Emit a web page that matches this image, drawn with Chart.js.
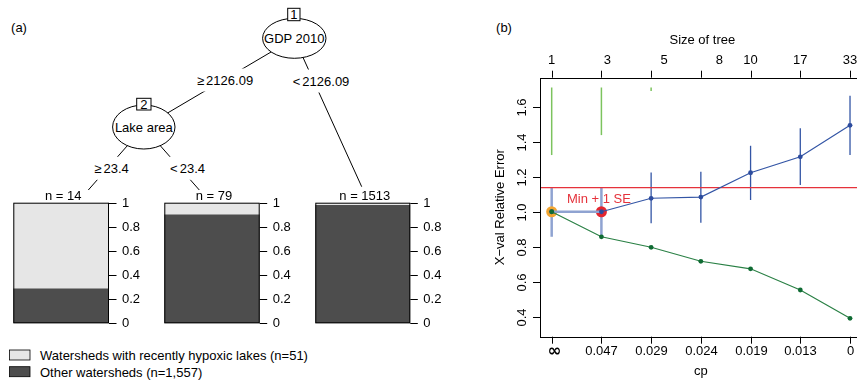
<!DOCTYPE html>
<html>
<head>
<meta charset="utf-8">
<script src="https://cdn.jsdelivr.net/npm/chart.js@4"></script>
<style>
  html, body { margin: 0; padding: 0; width: 857px; height: 382px; overflow: hidden; background: #fff; }
  #tree { position: absolute; left: 0; top: 0; }
  canvas { position: absolute; }
  text { font-family: "Liberation Sans", Arial, sans-serif; }
</style>
</head>
<body>
<svg id="tree" width="857" height="382" xmlns="http://www.w3.org/2000/svg"></svg>
<canvas id="node0" width="150" height="145" style="left:0;top:185px"></canvas>
<canvas id="node1" width="150" height="145" style="left:150px;top:185px"></canvas>
<canvas id="node2" width="150" height="145" style="left:300px;top:185px"></canvas>
<canvas id="cp" width="380" height="382" style="left:490px;top:0"></canvas>
<script>
// terminal nodes of the tree (panel a)
const nodeLabels = ["n = 14", "n = 79", "n = 1513"];
const otherShare = [0.286, 0.899, 0.978];
const hypoxicShare = [0.714, 0.101, 0.022];
const shareTicks = [0, 0.2, 0.4, 0.6, 0.8, 1];

// cross-validation of the tree (panel b)
const cpLabels = ["∞", "0.047", "0.029", "0.024", "0.019", "0.013", "0"];
const sizeLabels = ["1", "3", "5", "8", "10", "17", "33"];
const sizeLabelPos = [1, 2.12, 3.26, 4.37, 5, 6, 7];
const relError = [1.0, 0.857, 0.797, 0.717, 0.674, 0.553, 0.391];
const xError = [1.0, 1.0, 1.077, 1.084, 1.223, 1.314, 1.494];
const xErrLow = [0.857, 0.857, 0.934, 0.937, 1.067, 1.153, 1.324];
const xErrHigh = [1.14, 1.14, 1.225, 1.229, 1.377, 1.477, 1.663];
const greenLow = [1.324, 1.438, 1.69];
const greenHigh = [1.71, 1.71, 1.71];
const minPlusSE = 1.138;
const errTicks = [0.4, 0.6, 0.8, 1.0, 1.2, 1.4, 1.6];

const FONT = '"Liberation Sans", Arial, sans-serif';
const DARK = "#4d4d4d";
const LIGHT = "#e6e6e6";

// ---- tree drawing (svg) ----
const svg = document.getElementById("tree");
const NS = "http://www.w3.org/2000/svg";
function el(name, attrs, text) {
  const e = document.createElementNS(NS, name);
  for (const k in attrs) e.setAttribute(k, attrs[k]);
  if (text !== undefined) e.textContent = text;
  svg.appendChild(e);
  return e;
}
function label(x, y, str, size, bg) {
  const attrs = { x: x, y: y, "font-size": size, "text-anchor": "middle", "dominant-baseline": "central" };
  if (bg) attrs["word-spacing"] = -1.5;
  const t = el("text", attrs, str);
  if (bg) {
    const b = t.getBBox();
    const r = document.createElementNS(NS, "rect");
    r.setAttribute("x", b.x - 2); r.setAttribute("y", b.y - 4);
    r.setAttribute("width", b.width + 4); r.setAttribute("height", b.height + 8);
    r.setAttribute("fill", "#fff");
    svg.insertBefore(r, t);
  }
  return t;
}

const n1 = { x: 294.3, y: 38.3 }, n2 = { x: 143.8, y: 127 };
const edges = [
  [n1, n2], [n1, { x: 361.7, y: 186.7 }],
  [n2, { x: 88.3, y: 190 }], [n2, { x: 199.3, y: 190 }]
];
edges.forEach(([a, b]) => el("line", { x1: a.x, y1: a.y, x2: b.x, y2: b.y, stroke: "#000", "stroke-width": 1 }));
label(225, 80, "≥ 2126.09", 13, true);
label(321, 81, "< 2126.09", 13, true);
label(111.5, 168.3, "≥ 23.4", 13, true);
label(187.5, 168.3, "< 23.4", 13, true);

el("ellipse", { cx: n1.x, cy: n1.y, rx: 31.7, ry: 20, fill: "#fff", stroke: "#000" });
label(n1.x, n1.y, "GDP 2010", 13);
el("rect", { x: 287.7, y: 8.3, width: 12.3, height: 12.4, fill: "#fff", stroke: "#000" });
label(293.9, 14.6, "1", 13);

el("ellipse", { cx: n2.x, cy: n2.y, rx: 31.2, ry: 22, fill: "#fff", stroke: "#000" });
label(n2.x, n2.y, "Lake area", 13);
el("rect", { x: 136.7, y: 98.3, width: 14.3, height: 11.7, fill: "#fff", stroke: "#000" });
label(143.9, 104.3, "2", 13);

label(19, 27, "(a)", 13);
label(504, 27, "(b)", 13);

// legend
el("rect", { x: 9.5, y: 350, width: 20.5, height: 10, fill: LIGHT, stroke: "#000", "stroke-width": 0.8 });
el("rect", { x: 9.5, y: 366.7, width: 20.5, height: 10, fill: DARK, stroke: "#000", "stroke-width": 0.8 });
el("text", { x: 40, y: 355.5, "font-size": 13, "dominant-baseline": "central" }, "Watersheds with recently hypoxic lakes (n=51)");
el("text", { x: 40, y: 372, "font-size": 13, "dominant-baseline": "central" }, "Other watersheds (n=1,557)");

// ---- terminal node bar charts ----
const nodePad = [
  { left: 13.3, right: 41, top: 17.7, bottom: 6.7 },
  { left: 14.3, right: 40.3, top: 17.7, bottom: 6.7 },
  { left: 15.3, right: 39.7, top: 17.7, bottom: 6.7 }
];

const nodeAxis = {
  id: "nodeAxis",
  afterDraw(chart) {
    const { ctx, chartArea: a, scales: { y } } = chart;
    const i = chart.options.nodeIndex;
    ctx.save();
    ctx.strokeStyle = "#000";
    ctx.lineWidth = 1;
    ctx.strokeRect(a.left + 0.5, a.top + 0.5, a.right - a.left - 1, a.bottom - a.top - 1);
    ctx.fillStyle = "#000";
    ctx.font = "13px " + FONT;
    ctx.textBaseline = "middle";
    ctx.textAlign = "left";
    shareTicks.forEach(v => {
      const py = Math.round(y.getPixelForValue(v)) + 0.5;
      ctx.beginPath();
      ctx.moveTo(a.right, py);
      ctx.lineTo(a.right + 7.5, py);
      ctx.stroke();
      ctx.fillText(String(v), a.right + 13, py);
    });
    ctx.textAlign = "center";
    ctx.fillText(nodeLabels[i], (a.left + a.right) / 2 + 2, a.top - 6.5);
    ctx.restore();
  }
};

nodeLabels.forEach((_, i) => {
  new Chart(document.getElementById("node" + i), {
    type: "bar",
    data: {
      labels: [""],
      datasets: [
        { data: [otherShare[i]], backgroundColor: DARK, borderWidth: 0 },
        { data: [hypoxicShare[i]], backgroundColor: LIGHT, borderWidth: 0 }
      ]
    },
    options: {
      nodeIndex: i,
      responsive: false,
      animation: false,
      layout: { padding: nodePad[i] },
      datasets: { bar: { barPercentage: 1, categoryPercentage: 1 } },
      plugins: { legend: { display: false }, tooltip: { enabled: false } },
      scales: {
        x: { display: false, stacked: true },
        y: { display: false, stacked: true, min: 0, max: 1 }
      }
    },
    plugins: [nodeAxis]
  });
});

// ---- cp plot ----
const pos = cpLabels.map((_, i) => i + 1);

const cpDecor = {
  id: "cpDecor",
  beforeDatasetsDraw(chart) {
    const { ctx, chartArea: a, scales: { x, y } } = chart;
    ctx.save();
    ctx.lineCap = "butt";
    // green bars at the top
    ctx.strokeStyle = "#7cc35e";
    ctx.lineWidth = 1.5;
    greenLow.forEach((lo, i) => {
      const px = x.getPixelForValue(pos[i]);
      ctx.beginPath();
      ctx.moveTo(px, y.getPixelForValue(greenHigh[i]));
      ctx.lineTo(px, y.getPixelForValue(lo));
      ctx.stroke();
    });
    // error bars
    xErrLow.forEach((lo, i) => {
      const px = x.getPixelForValue(pos[i]);
      ctx.strokeStyle = i < 2 ? "#8fa3d1" : "#3355a5";
      ctx.lineWidth = i < 2 ? 2.5 : 1.3;
      ctx.beginPath();
      ctx.moveTo(px, y.getPixelForValue(xErrHigh[i]));
      ctx.lineTo(px, y.getPixelForValue(lo));
      ctx.stroke();
    });
    // min + 1 SE line
    const ry = y.getPixelForValue(minPlusSE);
    ctx.strokeStyle = "#e5323b";
    ctx.lineWidth = 1.2;
    ctx.beginPath();
    ctx.moveTo(a.left, ry);
    ctx.lineTo(a.right, ry);
    ctx.stroke();
    ctx.restore();
  },
  afterDraw(chart) {
    const { ctx, chartArea: a, scales: { x, y } } = chart;
    ctx.save();
    ctx.strokeStyle = "#000";
    ctx.fillStyle = "#000";
    ctx.lineWidth = 1;
    ctx.strokeRect(Math.round(a.left) + 0.5, Math.round(a.top) + 0.5, a.right - a.left, Math.round(a.bottom - a.top));
    // red label
    ctx.fillStyle = "#e5323b";
    ctx.font = "13px " + FONT;
    ctx.textAlign = "center";
    ctx.textBaseline = "middle";
    ctx.fillText("Min + 1 SE", x.getPixelForValue(1.95), y.getPixelForValue(minPlusSE) + 12);
    ctx.fillStyle = "#000";
    // y ticks (rotated labels)
    errTicks.forEach(v => {
      const py = Math.round(y.getPixelForValue(v)) + 0.5;
      ctx.beginPath();
      ctx.moveTo(a.left, py);
      ctx.lineTo(a.left - 7, py);
      ctx.stroke();
      ctx.save();
      ctx.translate(a.left - 18, py);
      ctx.rotate(-Math.PI / 2);
      ctx.fillText(v.toFixed(1), 0, 0);
      ctx.restore();
    });
    // bottom and top ticks
    pos.forEach((p, i) => {
      const px = Math.round(x.getPixelForValue(p)) + 0.5;
      ctx.beginPath();
      ctx.moveTo(px, a.bottom);
      ctx.lineTo(px, a.bottom + 7);
      ctx.moveTo(px, a.top);
      ctx.lineTo(px, a.top - 7);
      ctx.stroke();
      ctx.font = i === 0 ? "bold 17px 'DejaVu Sans'" : "13px " + FONT;
      ctx.fillText(cpLabels[i], px + (i === 0 ? 2 : 0), a.bottom + 15);
      ctx.font = "13px " + FONT;
      ctx.fillText(sizeLabels[i], x.getPixelForValue(sizeLabelPos[i]), a.top - 17.5);
    });
    ctx.font = "13px " + FONT;
    ctx.fillText("cp", x.getPixelForValue(4), a.bottom + 35);
    ctx.fillText("Size of tree", x.getPixelForValue(4.03), a.top - 37.5);
    ctx.save();
    ctx.translate(10, (a.top + a.bottom) / 2);
    ctx.rotate(-Math.PI / 2);
    ctx.fillText("X\u2212val Relative Error", 0, 0);
    ctx.restore();
    ctx.restore();
  }
};

new Chart(document.getElementById("cp"), {
  type: "line",
  data: {
    datasets: [
      {
        data: pos.map((p, i) => ({ x: p, y: relError[i] })),
        borderColor: "#2a8045", borderWidth: 1.2,
        pointRadius: 2.4, pointBackgroundColor: "#0f6b33", pointBorderWidth: 0
      },
      {
        data: pos.map((p, i) => ({ x: p, y: xError[i] })),
        borderColor: "#3355a5", borderWidth: 1.2,
        pointRadius: 2.4, pointBackgroundColor: "#2d4c9e", pointBorderWidth: 0,
        segment: {
          borderColor: c => c.p0DataIndex === 0 ? "#8fa3d1" : "#3355a5",
          borderWidth: c => c.p0DataIndex === 0 ? 2.5 : 1.2
        }
      },
      {
        data: [{ x: pos[1], y: xError[1] }],
        showLine: false, pointRadius: 5.5, pointBackgroundColor: "#e3262f", pointBorderWidth: 0
      },
      {
        data: [{ x: pos[0], y: relError[0] }],
        showLine: false, pointRadius: 5.5, pointBackgroundColor: "#f2a531", pointBorderWidth: 0
      }
    ]
  },
  options: {
    responsive: false,
    animation: false,
    layout: { padding: { left: 50, right: 8.3, top: 77.7, bottom: 45.3 } },
    plugins: { legend: { display: false }, tooltip: { enabled: false } },
    scales: {
      x: { type: "linear", display: false, min: 0.765, max: 7.235 },
      y: { type: "linear", display: false, min: 0.286, max: 1.766 }
    }
  },
  plugins: [cpDecor]
});
</script>
</body>
</html>
